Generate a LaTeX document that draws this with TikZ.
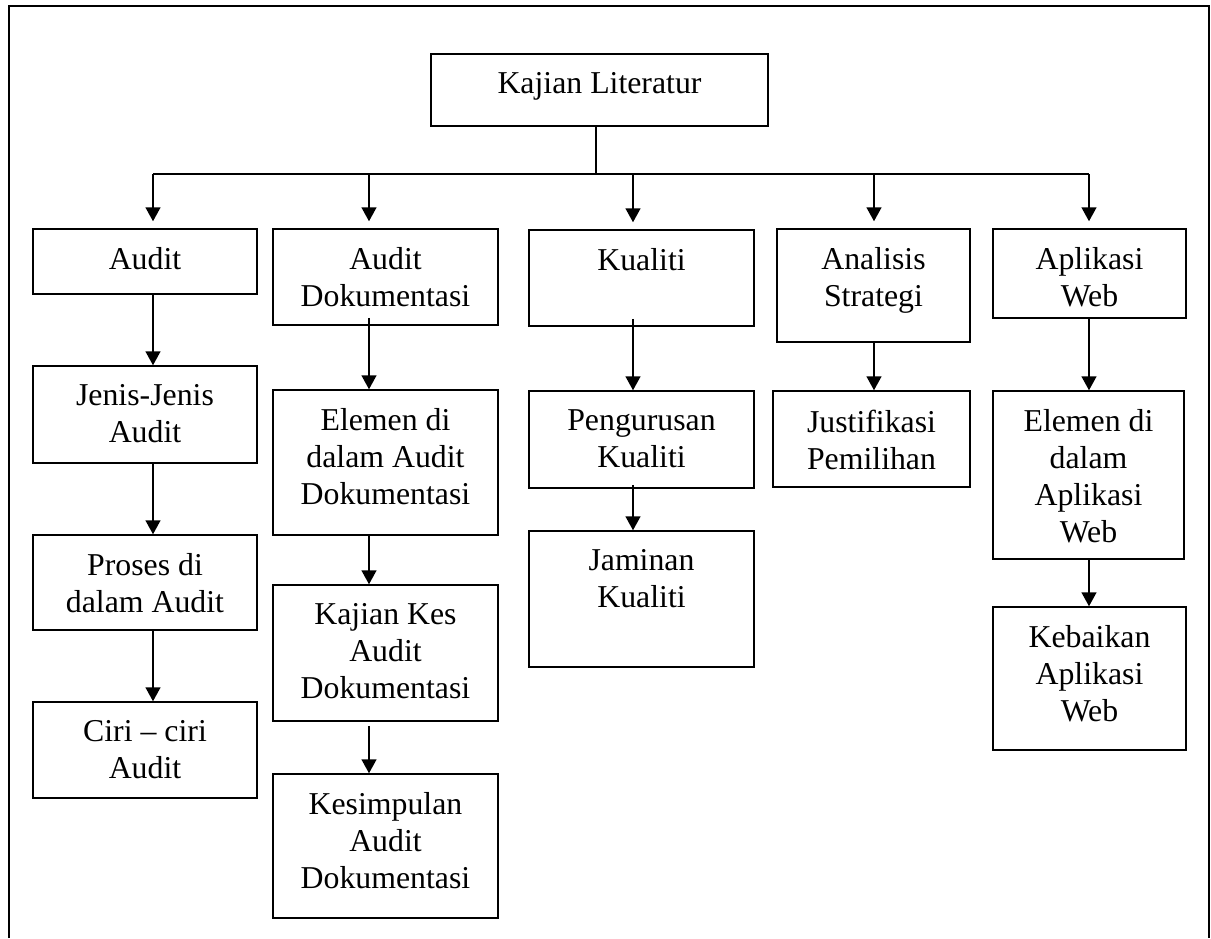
\documentclass[tikz,border=0pt]{standalone}
\usepackage{fontspec}
\setmainfont{Liberation Serif}
\usetikzlibrary{ fit,         % For boxes fitted to their corners
                 positioning, % For texts placed below the top of a box
                 arrows.meta, % For the solid arrow heads
               }
\tikzset{
  box/.style={draw, line width=0.75pt, inner sep=0pt, rectangle},
  txt/.style={align=center, inner sep=0pt, font=\fontsize{15.9}{18.5}\selectfont},
  arr/.style={-{Triangle[width=7.5pt,length=7pt]}, line width=0.75pt},
}
\begin{document}
\begin{tikzpicture}[x=0.5pt, y=-0.5pt]
    \useasboundingbox (0,0) rectangle (1211,938);
    \draw[line width=0.75pt] (9,938) -- (9,6) -- (1209,6) -- (1209,938);

    % boxes
    \node[box, fit={(431,54) (768,126)}] (lit) {};
    \node[box, fit={(33,229) (257,294)}] (audit) {};
    \node[box, fit={(273,229) (498,325)}] (dok) {};
    \node[box, fit={(529,230) (754,326)}] (kual) {};
    \node[box, fit={(777,229) (970,342)}] (anal) {};
    \node[box, fit={(993,229) (1186,318)}] (web) {};
    \node[box, fit={(33,366) (257,463)}] (jenis) {};
    \node[box, fit={(33,535) (257,630)}] (proses) {};
    \node[box, fit={(33,702) (257,798)}] (ciri) {};
    \node[box, fit={(273,390) (498,535)}] (elemen) {};
    \node[box, fit={(273,585) (498,721)}] (kes) {};
    \node[box, fit={(273,774) (498,918)}] (simpul) {};
    \node[box, fit={(529,391) (754,488)}] (urus) {};
    \node[box, fit={(529,531) (754,667)}] (jamin) {};
    \node[box, fit={(773,391) (970,487)}] (justi) {};
    \node[box, fit={(993,391) (1184,559)}] (elweb) {};
    \node[box, fit={(993,607) (1186,750)}] (baik) {};

    % texts
    \node[txt, below=9.6pt of lit.north] (tlit) {Kajian Literatur};
    \node[txt, below=9.6pt of audit.north] (taudit) {Audit};
    \node[txt, below=9.6pt of dok.north] (tdok) {Audit\\Dokumentasi};
    \node[txt, below=9.6pt of kual.north] (tkual) {Kualiti};
    \node[txt, below=9.6pt of anal.north] (tanal) {Analisis\\Strategi};
    \node[txt, below=9.6pt of web.north] (tweb) {Aplikasi\\Web};
    \node[txt, below=9.6pt of jenis.north] (tjenis) {Jenis-Jenis\\Audit};
    \node[txt, below=9.6pt of proses.north] (tproses) {Proses di\\dalam Audit};
    \node[txt, below=9.6pt of ciri.north] (tciri) {Ciri \textendash{} ciri\\Audit};
    \node[txt, below=9.6pt of elemen.north] (telemen) {Elemen di\\dalam Audit\\Dokumentasi};
    \node[txt, below=9.6pt of kes.north] (tkes) {Kajian Kes\\Audit\\Dokumentasi};
    \node[txt, below=9.6pt of simpul.north] (tsimpul) {Kesimpulan\\Audit\\Dokumentasi};
    \node[txt, below=9.6pt of urus.north] (turus) {Pengurusan\\Kualiti};
    \node[txt, below=9.6pt of jamin.north] (tjamin) {Jaminan\\Kualiti};
    \node[txt, below=9.6pt of justi.north] (tjusti) {Justifikasi\\Pemilihan};
    \node[txt, below=9.6pt of elweb.north] (telweb) {Elemen di\\dalam\\Aplikasi\\Web};
    \node[txt, below=9.6pt of baik.north] (tbaik) {Kebaikan\\Aplikasi\\Web};

    % bus and arrows
    \coordinate (bus) at (596,174);
    \coordinate (c1) at (153,174);
    \coordinate (c2) at (369,174);
    \coordinate (c3) at (633,174);
    \coordinate (c4) at (874,174);
    \coordinate (c5) at (1089,174);
    \draw[line width=0.75pt] (lit.south -| bus) -- (bus);
    \draw[line width=0.75pt] (c1) -- (c5);
    \foreach \c/\n in {c1/audit, c2/dok, c3/kual, c4/anal, c5/web}
      \draw[arr, shorten >=3.5pt] (\c) -- (\c |- \n.north);
    \foreach \c/\a/\b/\s in {c1/audit/jenis/0pt, c1/jenis/proses/0pt, c1/proses/ciri/0pt,
                             c2/dok/elemen/-4pt, c2/elemen/kes/0pt, c2/kes/simpul/2pt,
                             c3/kual/urus/-4pt, c3/urus/jamin/-2pt,
                             c4/anal/justi/0pt, c5/web/elweb/0pt, c5/elweb/baik/0pt}
      \draw[arr, shorten <=\s] (\c |- \a.south) -- (\c |- \b.north);
\end{tikzpicture}
\end{document}
